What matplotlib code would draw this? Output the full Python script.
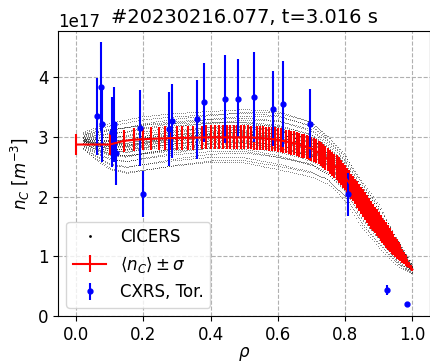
import matplotlib
matplotlib.use('Agg')
import matplotlib.pyplot as plt
import numpy as np

plt.rcParams['font.size'] = 12

scale = 1e17

# mean C density profile and its spread, on a grid uniform in rho^2
rho_mean = np.sqrt(np.arange(101) / 100)
nc_mean = [2.87, 2.87, 2.93, 2.95, 2.96, 2.965, 2.97, 2.973, 2.977, 2.98,
           2.982, 2.983, 2.985, 2.986, 2.987, 2.989, 2.99, 2.99, 2.99, 2.99,
           2.99, 2.99, 2.99, 2.99, 2.99, 2.99, 2.99, 2.988, 2.986, 2.984,
           2.982, 2.976, 2.970, 2.965, 2.960, 2.955, 2.95, 2.94, 2.931, 2.92,
           2.91, 2.902, 2.892, 2.879, 2.866, 2.852, 2.84, 2.825, 2.813, 2.80,
           2.779, 2.758, 2.736, 2.708, 2.68, 2.65, 2.62, 2.585, 2.549, 2.516,
           2.478, 2.443, 2.402, 2.359, 2.32, 2.275, 2.229, 2.175, 2.13, 2.082,
           2.034, 1.984, 1.934, 1.891, 1.84, 1.789, 1.738, 1.687, 1.647, 1.603,
           1.565, 1.52, 1.475, 1.438, 1.398, 1.355, 1.318, 1.273, 1.235, 1.199,
           1.157, 1.122, 1.087, 1.05, 1.005, 0.968, 0.93, 0.892, 0.855, 0.818,
           0.78]
nc_sigma = [0.18, 0.18, 0.19, 0.19, 0.19, 0.19, 0.20, 0.20, 0.20, 0.20,
            0.20, 0.20, 0.20, 0.20, 0.20, 0.20, 0.20, 0.20, 0.20, 0.20,
            0.20, 0.20, 0.20, 0.20, 0.20, 0.20, 0.20, 0.20, 0.20, 0.20,
            0.20, 0.20, 0.20, 0.20, 0.20, 0.20, 0.20, 0.20, 0.20, 0.20,
            0.20, 0.20, 0.20, 0.20, 0.20, 0.20, 0.20, 0.20, 0.20, 0.20,
            0.20, 0.20, 0.20, 0.20, 0.20, 0.20, 0.20, 0.20, 0.20, 0.20,
            0.21, 0.21, 0.21, 0.21, 0.21, 0.21, 0.21, 0.21, 0.21, 0.21,
            0.22, 0.22, 0.23, 0.23, 0.23, 0.23, 0.23, 0.23, 0.23, 0.22,
            0.22, 0.22, 0.22, 0.21, 0.21, 0.21, 0.21, 0.20, 0.19, 0.18,
            0.17, 0.16, 0.15, 0.13, 0.12, 0.10, 0.09, 0.07, 0.05, 0.04,
            0.02]

# envelope of the CICERS sample profiles; each sample sits at a fraction
# of the envelope width, going from frac_in at the axis to frac_out at the edge
cloud_rho = [0.02, 0.05, 0.10, 0.15, 0.20, 0.30, 0.40, 0.50, 0.60, 0.70, 0.75, 0.80, 0.85, 0.90, 0.95, 1.00]
cloud_lo = [2.80, 2.65, 2.45, 2.38, 2.42, 2.50, 2.56, 2.55, 2.44, 2.32, 2.20, 1.93, 1.47, 1.15, 0.86, 0.70]
cloud_hi = [3.08, 3.14, 3.24, 3.30, 3.36, 3.42, 3.46, 3.50, 3.48, 3.30, 3.04, 2.72, 2.28, 1.88, 1.34, 0.86]
frac_in = [0.0, 0.04, 0.09, 0.14, 0.19, 0.24, 0.28, 0.32, 0.35, 0.38, 0.41, 0.43,
           0.45, 0.47, 0.49, 0.51, 0.53, 0.55, 0.57, 0.59, 0.61, 0.64, 0.67,
           0.70, 0.74, 0.78, 0.82, 0.86, 0.90, 0.95, 1.0, 0.46, 0.50, 0.54, 0.36, 0.62]
frac_out = [0.12, 0.0, 0.30, 0.08, 0.45, 0.20, 0.50, 0.40, 0.26, 0.55, 0.34, 0.60,
            0.38, 0.66, 0.44, 0.48, 0.72, 0.42, 0.52, 0.80, 0.58, 0.46, 0.88,
            0.62, 0.95, 0.70, 1.0, 0.76, 0.56, 0.84, 0.92, 0.35, 0.64, 0.50, 0.16, 0.68]

# CXRS toroidal system
cxrs_rho = [0.063, 0.075, 0.078, 0.107, 0.112, 0.119, 0.191, 0.198, 0.275, 0.285, 0.360,
            0.381, 0.444, 0.482, 0.529, 0.587, 0.614, 0.697, 0.809, 0.925, 0.985]
cxrs_nc = [3.34, 3.84, 3.22, 3.08, 3.21, 2.72, 3.15, 2.04, 3.13, 3.27, 3.29,
           3.58, 3.63, 3.64, 3.67, 3.47, 3.55, 3.22, 2.04, 0.435, 0.20]
cxrs_err = [0.65, 0.75, 0.64, 0.59, 0.63, 0.52, 0.64, 0.39, 0.62, 0.62, 0.66,
            0.66, 0.73, 0.66, 0.75, 0.63, 0.72, 0.58, 0.36, 0.09, 0.02]

fig = plt.figure(figsize=(4.3, 3.62), dpi=100)
ax = fig.add_axes([58 / 430, 46 / 362, 372.5 / 430, 285 / 362])

n_grid = 170
step = 0.98 / (n_grid - 1)
xs, ys = [], []
for k, (fa, fb) in enumerate(zip(frac_in, frac_out)):
    g = 0.02 + step * (np.arange(n_grid) + (k % 7) / 7)
    g = g[g <= 1.0]
    lo = np.interp(g, cloud_rho, cloud_lo)
    hi = np.interp(g, cloud_rho, cloud_hi)
    f = fa + (fb - fa) * g
    xs.append(g)
    ys.append(lo + f * (hi - lo))
xs = np.concatenate(xs)
ys = np.concatenate(ys)
ax.plot(xs, ys * scale, ls='none', marker='.', ms=1.5, mew=0, color='k', alpha=0.55, label='CICERS')

ax.errorbar(rho_mean, np.array(nc_mean) * scale, yerr=np.array(nc_sigma) * scale,
            color='red', lw=1.5, elinewidth=1.5, label=r'$\langle n_C \rangle \pm \sigma$')

ax.errorbar(cxrs_rho, np.array(cxrs_nc) * scale, yerr=np.array(cxrs_err) * scale,
            color='blue', ls='none', marker='o', ms=3.5, elinewidth=1.5, label='CXRS, Tor.')

ax.set_xlim(-0.054, 1.054)
ax.set_ylim(0, 4.77e17)
ax.grid(True, ls='--')
ax.set_xlabel(r'$\rho$', labelpad=1)
ax.set_ylabel(r'$n_C\ [m^{-3}]$')
ax.set_title('#20230216.077, t=3.016 s', fontsize=14)
leg = ax.legend(loc='lower left')
leg.legend_handles[0].set_markersize(4)
leg.legend_handles[0].set_alpha(1)

plt.savefig('out.png', dpi=100)
